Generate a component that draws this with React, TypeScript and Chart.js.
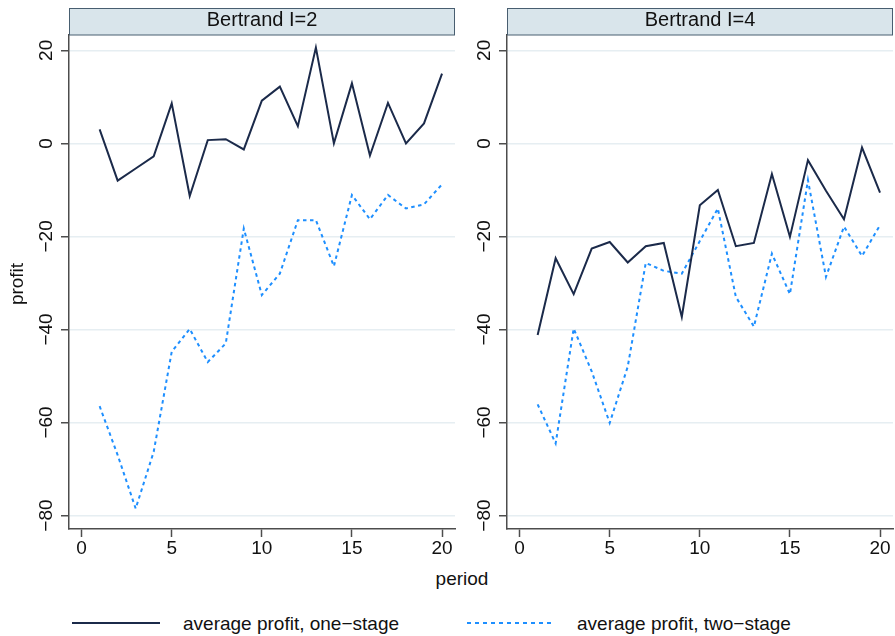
import React, { useEffect, useRef } from 'react';
import { Chart, registerables } from 'chart.js';

Chart.register(...registerables);

// Period index shared by both panels
const periods = [1, 2, 3, 4, 5, 6, 7, 8, 9, 10, 11, 12, 13, 14, 15, 16, 17, 18, 19, 20];

// Bertrand I=2
const oneStageI2 = [3.0, -8.0, -5.4, -2.8, 8.6, -11.3, 0.7, 0.9, -1.3, 9.2, 12.2, 3.7, 20.6, 0.0, 12.9, -2.6, 8.7, 0.0, 4.3, 15.0];
const twoStageI2 = [-56.5, -67.0, -78.5, -66.3, -44.8, -39.9, -47.0, -43.0, -18.3, -32.6, -28.0, -16.5, -16.5, -26.4, -11.1, -16.3, -11.1, -14.0, -13.1, -8.8];

// Bertrand I=4
const oneStageI4 = [-41.2, -24.7, -32.4, -22.6, -21.2, -25.6, -22.1, -21.4, -37.3, -13.3, -10.0, -22.1, -21.4, -6.6, -20.1, -3.6, -10.2, -16.3, -0.9, -10.6];
const twoStageI4 = [-56.1, -64.5, -39.8, -49.0, -60.1, -48.0, -25.7, -27.4, -28.0, -21.0, -14.0, -33.0, -39.4, -23.7, -32.4, -7.9, -28.7, -17.9, -24.2, -17.6];

const xTickValues = [0, 5, 10, 15, 20];
const yTickValues = [-80, -60, -40, -20, 0, 20];
const panelTitles = ['Bertrand I=2', 'Bertrand I=4'];
const seriesLabels = ['average profit, one\u2212stage', 'average profit, two\u2212stage'];
const xTitle = 'period';
const yTitle = 'profit';

const FONT = '"Liberation Sans", Arial, Helvetica, sans-serif';
const NAVY = '#1b2a4a';
const BLUE = '#1e8fff';
const AXIS = '#4d4d4d';
const GRID = '#e6eef2';
const TEXT = '#111111';

const W = 895;
const CANVAS_H = 560;

const fmt = (v: number) => (v < 0 ? '\u2212' + Math.abs(v) : String(v));

// Header strip, rotated y tick labels and the y title of each panel
const panelDecor = {
  id: 'panelDecor',
  afterDraw(chart: any, _args: any, opts: any) {
    const { ctx, chartArea } = chart;
    const { left, right, top } = chartArea;
    ctx.save();
    // header strip
    ctx.fillStyle = '#d9e5eb';
    ctx.fillRect(left, 8, right - left, top - 8);
    ctx.strokeStyle = '#485e70';
    ctx.lineWidth = 1;
    ctx.strokeRect(left + 0.5, 8.5, right - left - 1, top - 8.5);
    ctx.fillStyle = TEXT;
    ctx.font = `20px ${FONT}`;
    ctx.textAlign = 'center';
    ctx.textBaseline = 'alphabetic';
    ctx.fillText(opts.title, (left + right) / 2, 26);

    // y tick labels, rotated
    const yScale = chart.scales.y;
    ctx.font = `19px ${FONT}`;
    for (const v of yTickValues) {
      const py = yScale.getPixelForValue(v);
      ctx.save();
      ctx.translate(left - 17.5, py);
      ctx.rotate(-Math.PI / 2);
      ctx.fillText(fmt(v), 0, 0);
      ctx.restore();
    }
    if (opts.yTitle) {
      const cy = (chartArea.top + chartArea.bottom) / 2 + 2;
      ctx.save();
      ctx.translate(23, cy);
      ctx.rotate(-Math.PI / 2);
      ctx.fillText(opts.yTitle, 0, 0);
      ctx.restore();
    }
    ctx.restore();
  },
};

function makeConfig(title: string, one: number[], two: number[], padLeft: number, padRight: number, showYTitle: boolean): any {
  return {
    type: 'line',
    data: {
      datasets: [
        {
          label: seriesLabels[0],
          data: periods.map((p, i) => ({ x: p, y: one[i] })),
          borderColor: NAVY,
          borderWidth: 2,
          pointRadius: 0,
          tension: 0,
          fill: false,
        },
        {
          label: seriesLabels[1],
          data: periods.map((p, i) => ({ x: p, y: two[i] })),
          borderColor: BLUE,
          borderWidth: 2,
          borderDash: [3.5, 3.5],
          pointRadius: 0,
          tension: 0,
          fill: false,
        },
      ],
    },
    options: {
      responsive: false,
      animation: false,
      devicePixelRatio: 1,
      layout: { padding: { left: padLeft, right: padRight, top: 35, bottom: 0 } },
      plugins: {
        legend: { display: false },
        tooltip: { enabled: false },
        panelDecor: { title, yTitle: showYTitle ? yTitle : '' },
      },
      scales: {
        x: {
          type: 'linear',
          min: -0.7,
          max: 20.72,
          afterBuildTicks: (s: any) => {
            s.ticks = xTickValues.map((v) => ({ value: v }));
          },
          afterFit: (s: any) => {
            s.height = 31;
          },
          ticks: {
            color: TEXT,
            font: { family: FONT, size: 19 },
            padding: 0,
            maxRotation: 0,
            callback: (v: number) => fmt(v),
          },
          grid: {
            drawOnChartArea: false,
            drawTicks: true,
            tickLength: 8,
            tickColor: AXIS,
            tickWidth: 1.5,
          },
          border: { display: true, color: AXIS, width: 1.5 },
        },
        y: {
          type: 'linear',
          min: -82.9,
          max: 23.3,
          afterBuildTicks: (s: any) => {
            s.ticks = yTickValues.map((v) => ({ value: v }));
          },
          afterFit: (s: any) => {
            s.width = 69;
          },
          ticks: { display: false },
          grid: {
            color: GRID,
            lineWidth: 1.5,
            drawTicks: true,
            tickLength: 8,
            tickColor: AXIS,
            tickWidth: 1.5,
          },
          border: { display: true, color: AXIS, width: 1.5 },
        },
      },
    },
    plugins: [panelDecor],
  };
}

export default function App() {
  const leftRef = useRef<HTMLCanvasElement>(null);
  const rightRef = useRef<HTMLCanvasElement>(null);

  useEffect(() => {
    document.body.style.margin = '0';
    const charts: Chart[] = [];
    if (leftRef.current) {
      charts.push(new Chart(leftRef.current, makeConfig(panelTitles[0], oneStageI2, twoStageI2, 0, W - 455, true)));
    }
    if (rightRef.current) {
      charts.push(new Chart(rightRef.current, makeConfig(panelTitles[1], oneStageI4, twoStageI4, 438, 2, false)));
    }
    return () => charts.forEach((c) => c.destroy());
  }, []);

  const canvasStyle: React.CSSProperties = { position: 'absolute', left: 0, top: 0, width: W, height: CANVAS_H };
  const textStyle: React.CSSProperties = {
    position: 'absolute',
    fontFamily: FONT,
    fontSize: 19,
    lineHeight: '22px',
    color: TEXT,
    whiteSpace: 'nowrap',
  };

  return (
    <div style={{ position: 'relative', width: W, height: 636, background: '#fff', overflow: 'hidden' }}>
      <canvas ref={leftRef} width={W} height={CANVAS_H} style={canvasStyle} />
      <canvas ref={rightRef} width={W} height={CANVAS_H} style={canvasStyle} />
      <div style={{ ...textStyle, left: 462, top: 568, transform: 'translateX(-50%)' }}>{xTitle}</div>
      <div style={{ position: 'absolute', left: 72, top: 622, width: 88, height: 2, background: NAVY }} />
      <div style={{ ...textStyle, left: 183, top: 613 }}>{seriesLabels[0]}</div>
      <div
        style={{
          position: 'absolute',
          left: 467,
          top: 622,
          width: 86,
          height: 2,
          background: `repeating-linear-gradient(to right, ${BLUE} 0px, ${BLUE} 4px, transparent 4px, transparent 8px)`,
        }}
      />
      <div style={{ ...textStyle, left: 577, top: 613 }}>{seriesLabels[1]}</div>
    </div>
  );
}
